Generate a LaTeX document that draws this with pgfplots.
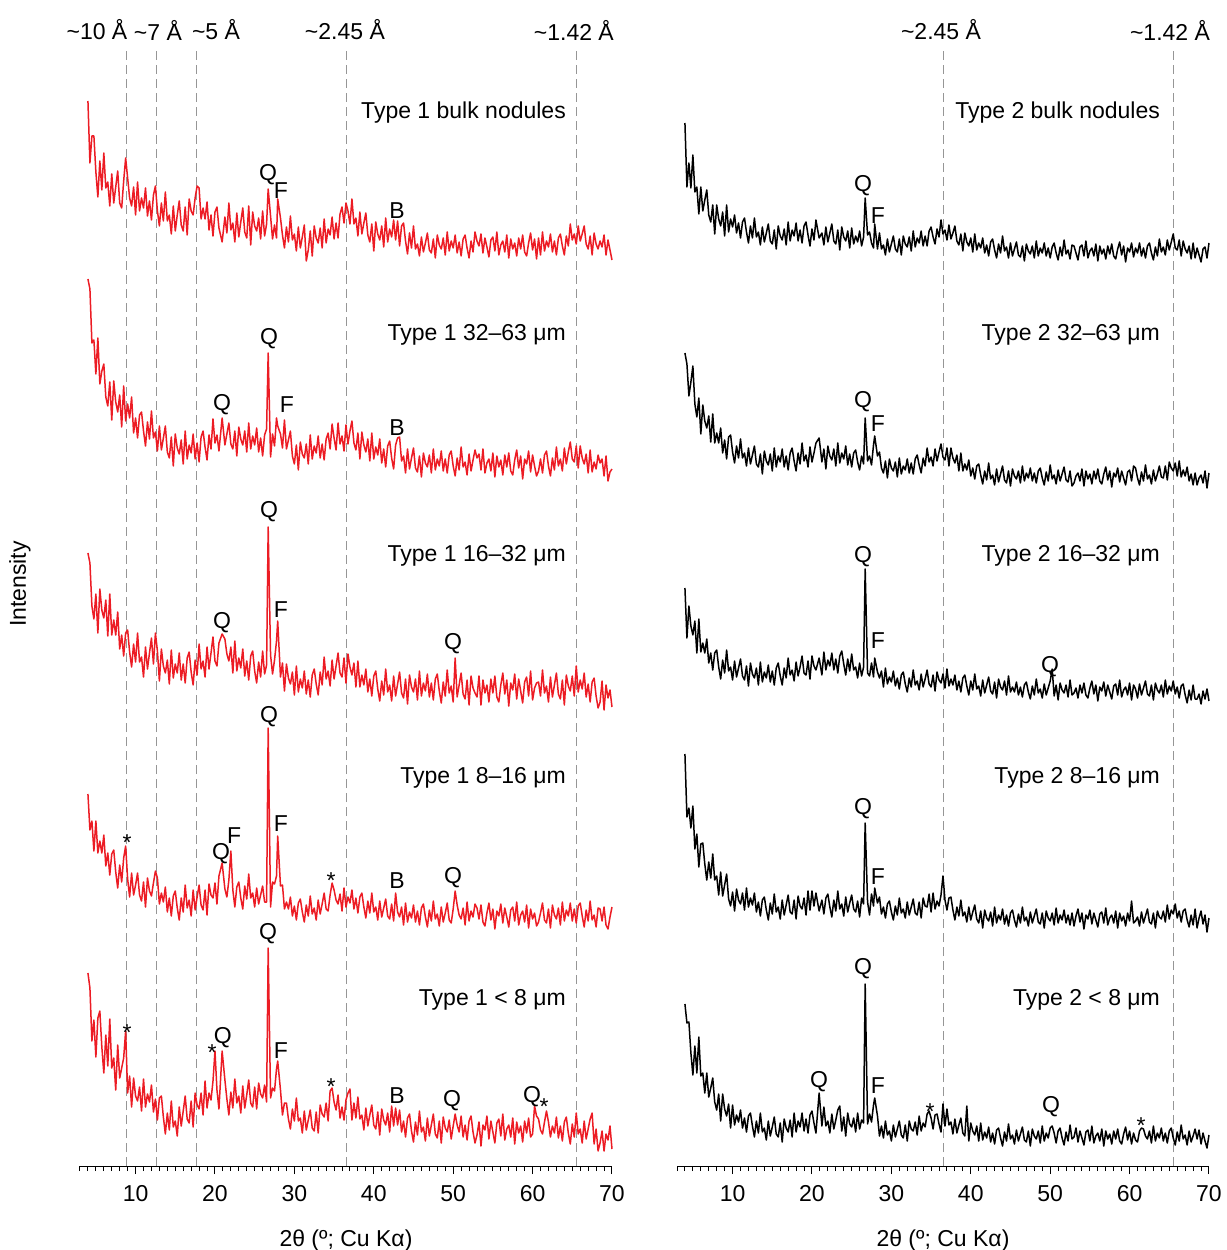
\documentclass[border=0pt]{standalone}
\usepackage{fontspec}
\setmainfont{Liberation Sans}
\usepackage{pgfplots}
\usepackage{pgfplotstable}
\pgfplotsset{compat=1.18}

\definecolor{xrdred}{RGB}{236,28,36}
\definecolor{guidegray}{RGB}{150,150,150}

% intensities in plot units (stacking offsets included)
% l1..l5 = Type 1 (bulk, 32-63, 16-32, 8-16, <8), r1..r5 = Type 2
\pgfplotstableread{
x l1 l2 l3 l4 l5 r1 r2 r3 r4 r5
4.00 1065 887 613 372 193 1043 813 578 412 162
4.25 1003 877 603 336 178 979 802 528 349 143
4.50 1030 823 560 345 125 1003 770 560 358 144
4.75 1030 826 547 315 146 978 784 540 338 113
5.00 994 792 572 345 109 1011 800 531 360 91
5.25 969 828 533 313 148 974 762 545 317 120
5.50 1005 782 577 325 155 979 749 513 332 93
5.75 976 795 556 313 119 952 768 547 299 129
6.00 1013 802 548 331 93 979 732 514 322 90
6.25 978 769 566 300 131 955 761 523 323 93
6.50 984 760 530 313 100 966 745 513 302 73
6.75 960 784 572 291 147 976 738 527 286 93
7.00 992 746 531 312 98 951 750 503 304 69
7.25 963 785 546 316 108 944 724 513 288 78
7.50 979 764 531 294 76 961 752 496 312 88
7.75 995 754 554 278 121 932 723 513 286 64
8.00 963 771 517 301 88 961 733 516 290 56
8.25 958 739 531 284 98 947 723 499 271 72
8.50 985 780 510 308 108 940 738 487 294 45
8.75 1008 745 533 320 135 954 713 506 270 72
9.00 988 762 536 287 73 930 726 493 281 57
9.25 968 748 514 269 90 961 707 516 292 50
9.50 960 769 499 293 59 934 729 495 267 62
9.75 979 733 522 271 88 947 731 499 260 38
10.00 951 748 504 281 70 939 714 486 274 61
10.25 984 728 533 293 65 951 703 505 255 41
10.50 955 751 504 271 79 933 720 489 277 51
10.75 968 754 509 265 55 943 708 498 266 44
11.00 958 735 489 284 87 928 727 507 262 56
11.25 978 720 519 259 59 944 708 490 273 38
11.50 950 744 497 288 72 948 713 486 256 48
11.75 965 727 513 275 64 934 700 500 278 34
12.00 946 755 528 270 81 923 718 480 259 50
12.25 971 728 502 283 54 940 702 503 268 53
12.50 980 734 533 295 67 928 711 492 261 40
12.75 955 715 515 288 46 948 720 488 273 29
13.00 940 740 485 262 68 929 702 498 254 45
13.25 963 716 517 273 70 934 699 481 264 33
13.50 945 728 500 264 49 921 712 504 250 53
13.75 974 740 493 279 32 939 692 484 266 34
14.00 945 714 506 254 53 924 715 494 269 38
14.25 951 708 482 268 36 933 705 488 256 26
14.50 932 729 516 250 65 942 701 501 246 45
14.75 960 700 488 270 39 925 712 484 263 30
15.00 935 732 502 275 45 922 695 495 252 39
15.25 951 718 493 258 30 936 718 481 272 49
15.50 965 712 513 246 59 917 699 498 254 32
15.75 941 726 486 268 40 940 710 503 259 29
16.00 935 702 502 254 55 930 704 490 247 43
16.25 959 735 483 281 70 926 717 481 266 24
16.50 931 707 508 258 47 937 699 498 251 47
16.75 967 721 514 266 43 921 710 488 261 38
17.00 955 713 494 250 65 944 696 508 271 34
17.25 951 732 481 276 39 925 713 491 254 46
17.50 968 707 506 256 73 936 718 496 252 29
17.75 980 723 491 269 61 930 705 485 266 53
18.00 978 704 522 281 57 943 695 504 247 34
18.25 947 729 497 261 73 925 713 490 270 45
18.50 958 735 505 256 51 936 702 499 260 39
18.75 947 719 489 276 85 923 723 510 257 53
19.00 964 706 519 251 58 940 705 493 268 35
19.25 936 731 497 282 73 944 711 491 251 47
19.50 951 717 513 271 66 931 699 505 275 33
19.75 930 747 529 268 85 920 719 487 256 51
20.00 954 723 505 283 115 937 704 510 275 55
20.25 959 731 500 262 76 926 713 500 260 43
20.50 938 715 523 290 57 946 723 496 273 33
20.90 924 748 532 303 115 928 728 508 255 73
21.25 949 721 527 277 86 933 704 491 266 40
21.50 933 732 512 269 67 921 717 514 252 59
21.75 963 743 505 286 51 939 697 496 268 40
22.00 936 722 519 315 74 924 720 506 272 45
22.25 943 717 493 276 58 933 710 500 259 33
22.50 924 735 525 259 87 942 706 513 249 52
22.75 953 710 495 279 63 925 717 496 266 37
23.00 929 739 508 284 70 922 700 507 255 46
23.25 944 727 498 268 53 936 723 493 275 56
23.50 958 721 517 257 80 916 703 510 257 60
23.75 934 735 490 280 58 939 713 515 262 35
24.00 928 714 505 267 71 929 707 502 250 49
24.25 960 743 486 292 86 925 720 491 269 30
24.50 921 717 510 268 63 935 701 507 254 53
24.75 954 730 515 273 59 918 712 495 263 42
25.00 940 721 495 259 79 938 699 512 271 39
25.25 935 738 483 278 57 922 713 496 257 48
25.50 948 714 504 262 83 930 716 499 254 34
25.75 927 728 489 271 72 924 704 488 265 53
26.00 955 710 515 280 68 935 696 503 249 37
26.25 930 731 492 264 81 920 710 490 268 46
26.50 942 737 501 264 64 929 702 499 262 43
26.70 977 813 639 438 218 968 748 597 343 182
27.00 950 709 511 259 68 931 705 493 264 42
27.25 927 732 492 284 78 934 710 490 251 52
27.50 941 720 506 282 75 923 701 503 272 44
27.75 928 748 525 290 97 918 721 489 260 61
27.90 967 740 545 330 105 942 730 508 278 68
28.25 948 732 489 280 76 917 710 494 263 50
28.50 931 718 503 281 51 933 714 488 269 30
28.75 918 746 475 257 63 917 698 495 252 40
29.00 939 717 502 264 63 921 693 479 259 28
29.25 924 726 488 257 47 911 705 498 248 45
29.50 950 735 482 269 37 927 688 482 262 31
29.75 926 710 494 250 57 914 707 489 265 35
30.00 932 702 471 260 45 922 698 484 254 25
30.25 915 721 500 246 68 930 695 495 246 41
30.50 939 696 474 263 45 917 704 480 260 29
30.75 918 724 487 267 48 914 689 488 251 37
31.00 929 712 478 254 33 927 708 477 268 45
31.25 941 708 495 244 55 911 692 491 253 31
31.50 905 722 472 261 36 930 700 494 257 28
31.75 916 702 486 250 46 922 696 482 248 41
32.00 935 731 469 270 56 919 707 474 264 25
32.25 910 707 491 252 38 929 693 488 251 45
32.50 940 720 497 258 35 915 703 479 259 37
32.75 928 713 482 246 54 935 692 496 267 35
33.00 923 730 471 266 33 919 707 481 253 44
33.25 938 708 494 252 61 928 711 485 251 31
33.50 918 722 481 262 52 923 701 476 264 50
33.75 947 706 509 273 49 935 693 492 248 35
34.00 923 727 487 257 63 920 708 479 268 43
34.25 937 733 495 255 45 930 700 487 260 39
34.50 931 717 480 271 75 920 718 496 259 52
34.75 949 742 506 283 78 935 704 482 272 55
35.00 927 728 487 276 64 939 709 479 254 48
35.25 943 716 500 266 56 929 700 491 273 37
35.50 928 743 513 262 71 922 717 475 257 51
35.75 952 722 493 272 48 937 705 494 265 52
36.00 959 730 489 255 59 929 714 486 260 42
36.25 943 715 508 278 46 946 722 483 271 34
36.50 963 741 483 259 66 932 709 492 290 62
36.75 955 722 512 269 73 936 706 478 266 40
37.00 942 735 499 263 77 926 718 497 256 57
37.25 967 745 491 276 46 941 700 480 268 41
37.50 942 723 503 257 63 927 718 487 269 44
37.75 948 716 479 268 48 933 708 481 256 32
38.00 930 733 505 253 69 940 703 491 246 47
38.25 954 707 479 269 47 925 711 476 259 33
38.50 932 734 491 273 51 921 695 485 250 41
38.75 943 721 481 259 36 932 713 474 266 48
39.00 953 714 497 248 58 915 695 488 250 33
39.25 931 727 474 265 40 933 702 491 254 30
39.50 924 705 487 253 51 924 696 480 244 60
39.75 942 733 470 273 61 920 706 471 259 25
40.00 915 707 490 254 41 928 690 485 246 43
40.25 944 719 495 259 37 914 698 476 254 35
40.50 932 711 477 246 54 932 687 492 261 31
40.75 926 727 465 265 31 916 700 477 247 40
41.00 940 703 485 249 57 923 702 480 243 25
41.25 919 717 471 258 46 918 691 470 255 43
41.50 948 699 497 267 41 928 682 486 238 26
41.75 924 720 474 250 53 913 695 473 256 34
42.00 937 725 481 247 34 921 686 481 248 28
42.25 929 708 465 262 60 910 703 489 245 39
42.50 946 697 490 245 40 924 687 475 254 24
42.75 926 721 470 273 58 927 691 472 240 33
43.00 945 728 482 254 41 916 681 484 259 22
43.25 920 729 494 249 56 908 697 468 243 36
43.50 940 705 473 259 34 922 684 487 251 38
43.75 943 710 468 241 45 913 692 479 246 28
44.00 925 693 487 263 29 930 700 476 257 20
44.25 912 717 462 244 48 915 686 485 242 34
44.50 933 697 491 254 52 919 683 471 251 25
44.75 918 708 479 248 35 908 695 490 240 42
45.00 940 718 474 261 24 923 680 474 253 27
45.25 917 698 487 244 44 910 697 479 256 31
45.50 922 694 466 255 31 917 690 474 246 22
45.75 910 710 495 241 55 924 687 484 239 36
46.00 929 689 470 258 34 911 695 471 252 25
46.25 914 713 483 262 39 909 683 479 243 32
46.50 923 703 475 249 25 920 700 469 259 39
46.75 933 699 492 239 48 905 685 481 245 26
47.00 916 711 469 256 30 922 693 484 249 24
47.25 913 693 483 245 41 915 688 474 240 35
47.50 927 717 466 265 52 912 698 467 254 20
47.75 908 696 487 247 32 920 685 480 243 37
48.00 931 707 492 252 28 908 693 471 250 30
48.25 921 700 475 240 45 925 683 487 257 27
48.50 917 715 463 259 23 910 695 473 244 35
48.75 928 695 484 244 49 918 698 477 242 23
49.00 911 707 470 253 38 913 688 468 253 40
49.25 934 693 496 263 34 923 681 482 238 25
49.50 915 711 473 246 46 910 694 471 255 33
49.75 925 715 480 243 27 918 685 478 248 28
50.00 918 700 464 257 40 908 701 485 245 38
50.25 931 690 508 275 52 919 687 497 253 40
50.50 913 708 469 261 41 923 691 470 241 33
50.75 924 696 481 251 34 913 682 481 258 23
51.00 910 719 493 247 50 906 696 466 243 35
51.25 927 699 472 258 29 919 685 483 251 38
51.50 931 704 467 241 41 910 692 476 246 28
51.75 918 691 486 264 26 926 699 473 256 21
52.00 908 712 461 245 45 912 686 481 243 34
52.25 925 695 490 255 50 916 684 469 251 25
52.50 914 706 478 249 34 907 695 486 241 41
52.75 934 716 473 262 23 921 680 471 253 27
53.00 925 708 469 258 31 920 683 473 240 29
53.25 920 712 490 247 44 913 690 478 250 38
53.50 932 696 461 261 20 906 693 468 257 24
53.75 913 717 486 244 41 919 685 481 244 35
54.00 928 693 473 240 36 921 697 473 253 28
54.25 919 703 481 253 50 910 680 483 237 21
54.50 909 707 464 263 27 925 695 471 251 34
54.75 926 695 487 246 45 908 687 468 247 36
55.00 929 713 473 257 34 915 692 478 256 25
55.25 915 689 490 237 23 918 682 485 242 40
55.50 934 710 469 255 43 910 695 472 253 23
55.75 911 699 464 250 47 922 687 481 246 30
56.00 921 706 481 262 30 905 697 465 239 33
56.25 925 691 493 243 52 920 685 479 252 25
56.50 914 711 472 258 26 912 682 475 254 37
56.75 931 699 486 249 37 917 692 484 243 20
57.00 908 713 460 239 41 907 699 470 258 35
57.25 927 695 483 256 29 920 686 481 241 27
57.50 917 691 476 259 48 912 695 474 248 32
57.75 923 706 492 245 22 922 679 467 251 22
58.00 910 716 467 264 44 910 693 480 243 35
58.25 928 698 487 241 33 907 689 482 255 27
58.50 917 710 475 251 40 917 698 471 238 37
58.75 931 687 463 255 24 924 684 486 253 25
59.00 914 707 484 244 45 911 695 469 245 22
59.25 910 702 489 261 33 920 688 476 250 32
59.50 923 715 470 238 48 904 681 479 240 39
59.75 933 694 495 257 29 918 694 471 253 26
60.00 916 711 466 247 32 914 696 483 245 35
60.25 927 700 478 253 60 923 685 466 265 22
60.50 907 690 483 240 50 909 700 481 243 33
60.75 928 695 484 244 47 918 698 477 245 26
61.00 911 707 470 253 36 913 688 468 249 24
61.25 934 693 496 263 32 923 681 482 240 35
61.50 915 711 473 246 44 910 694 471 254 38
61.75 925 715 480 243 55 918 685 478 243 37
62.00 919 700 464 257 44 908 701 485 250 30
62.25 932 690 489 238 29 920 687 472 257 27
62.50 914 708 469 261 40 923 691 470 244 35
62.75 925 696 481 251 33 913 682 481 242 23
63.00 911 719 493 247 49 906 696 466 253 40
63.25 928 700 472 258 28 919 685 483 238 25
63.50 932 707 467 241 40 910 692 476 255 33
63.75 920 695 486 264 25 927 700 473 249 28
64.00 911 718 461 245 44 914 689 481 247 38
64.25 930 702 491 256 49 919 688 469 255 25
64.50 920 714 480 250 33 911 700 486 244 33
64.75 942 724 475 263 22 926 686 472 261 23
65.00 926 707 490 245 42 916 704 480 247 35
65.25 932 704 470 257 29 924 698 475 256 38
65.50 922 720 500 243 53 932 695 485 252 28
65.75 940 698 474 260 32 918 703 472 262 21
66.00 925 720 486 263 37 916 690 479 248 34
66.25 932 708 477 250 23 926 705 468 255 25
66.50 940 702 493 239 45 910 689 480 244 41
66.75 922 712 469 256 27 925 696 482 255 27
67.00 917 693 482 245 37 917 690 471 257 31
67.25 930 716 464 265 47 913 699 463 246 21
67.50 911 694 484 246 53 920 685 476 239 35
67.75 933 704 488 251 22 907 692 466 251 24
68.00 922 697 470 239 37 923 681 481 241 30
68.25 917 711 458 258 15 908 693 467 257 37
68.50 925 703 464 257 23 918 681 467 238 27
68.75 919 707 485 245 35 911 688 472 248 36
69.00 931 690 456 259 15 904 691 462 255 22
69.25 911 710 481 241 32 917 683 475 242 33
69.50 926 685 468 237 26 919 695 467 251 25
69.75 916 694 476 249 40 908 678 477 234 18
70.00 906 697 459 259 17 923 693 465 248 31
}\xrd

\pgfplotsset{
  xrdpanel/.style={
    scale only axis, width=266pt, height=557.5pt,
    xmin=3, xmax=70, ymin=0, ymax=1115,
    axis x line*=bottom, axis y line=none, ytick=\empty,
    x axis line style={-, line width=0.5pt},
    xtick={10,20,...,70}, minor xtick={3,...,70},
    tick align=outside,
    major tick length=4pt, minor tick length=2.6pt,
    every tick/.style={black, line width=0.5pt},
    xticklabel style={anchor=base, yshift=-13.5pt},
    /pgf/number format/assume math mode=true,
    xlabel={2θ (º; Cu Kα)},
    every axis x label/.style={at={(axis description cs:0.5,0)}, anchor=center, yshift=-37.5pt},
    clip=false,
  },
  guideline/.style={guidegray, line width=0.5pt, dash pattern=on 4.5pt off 2.5pt, forget plot},
  redline/.style={xrdred, line width=0.75pt, line join=round},
  blackline/.style={black, line width=0.75pt, line join=round},
}

\begin{document}
\fontsize{11.5}{13.5}\selectfont
\begin{tikzpicture}
% ---------------- Type 1 ----------------
\begin{axis}[xrdpanel, at={(0pt,0pt)}, anchor=south west]
\addplot[guideline] coordinates {(8.8,0) (8.8,1115)};
\addplot[guideline] coordinates {(12.6,0) (12.6,1115)};
\addplot[guideline] coordinates {(17.7,0) (17.7,1115)};
\addplot[guideline] coordinates {(36.6,0) (36.6,1115)};
\addplot[guideline] coordinates {(65.5,0) (65.5,1115)};
\addplot[redline] table[x=x, y=l1] {\xrd};
\addplot[redline] table[x=x, y=l2] {\xrd};
\addplot[redline] table[x=x, y=l3] {\xrd};
\addplot[redline] table[x=x, y=l4] {\xrd};
\addplot[redline] table[x=x, y=l5] {\xrd};
% d-spacing labels
\node at (axis cs:5.14,1136) {\textasciitilde10 Å};
\node at (axis cs:12.82,1136) {\textasciitilde7 Å};
\node at (axis cs:20.13,1136) {\textasciitilde5 Å};
\node at (axis cs:36.37,1136) {\textasciitilde2.45 Å};
\node at (axis cs:65.2,1136) {\textasciitilde1.42 Å};
\node[rotate=90] at (axis cs:-4.56,582) {Intensity};
% sample names
\node[anchor=east] at (axis cs:65.2,1053) {Type 1 bulk nodules};
\node[anchor=east] at (axis cs:65.2,831) {Type 1 32–63 μm};
\node[anchor=east] at (axis cs:65.2,610) {Type 1 16–32 μm};
\node[anchor=east] at (axis cs:65.2,388) {Type 1 8–16 μm};
\node[anchor=east] at (axis cs:65.2,166) {Type 1 < 8 μm};
% phase labels
\node at (axis cs:26.68,991) {Q};
\node at (axis cs:28.31,975) {F};
\node at (axis cs:42.92,955) {B};
\node at (axis cs:26.80,827) {Q};
\node at (axis cs:20.88,761) {Q};
\node at (axis cs:29.07,761) {F};
\node at (axis cs:42.92,738) {B};
\node at (axis cs:26.80,654) {Q};
\node at (axis cs:20.88,543) {Q};
\node at (axis cs:28.31,556) {F};
\node at (axis cs:49.98,522) {Q};
\node at (axis cs:26.80,449) {Q};
\node at (axis cs:8.92,323) {*};
\node at (axis cs:20.76,312) {Q};
\node at (axis cs:22.40,330) {F};
\node at (axis cs:28.31,342) {F};
\node at (axis cs:34.61,285) {*};
\node at (axis cs:42.92,285) {B};
\node at (axis cs:49.98,288) {Q};
\node at (axis cs:26.68,232) {Q};
\node at (axis cs:8.92,133) {*};
\node at (axis cs:19.65,113) {*};
\node at (axis cs:20.98,128) {Q};
\node at (axis cs:28.31,115) {F};
\node at (axis cs:34.61,79) {*};
\node at (axis cs:42.92,70) {B};
\node at (axis cs:49.85,65) {Q};
\node at (axis cs:59.93,69) {Q};
\node at (axis cs:61.44,59) {*};
\end{axis}
% ---------------- Type 2 ----------------
\begin{axis}[xrdpanel, at={(298.5pt,0pt)}, anchor=south west]
\addplot[guideline] coordinates {(36.6,0) (36.6,1115)};
\addplot[guideline] coordinates {(65.5,0) (65.5,1115)};
\addplot[blackline] table[x=x, y=r1] {\xrd};
\addplot[blackline] table[x=x, y=r2] {\xrd};
\addplot[blackline] table[x=x, y=r3] {\xrd};
\addplot[blackline] table[x=x, y=r4] {\xrd};
\addplot[blackline] table[x=x, y=r5] {\xrd};
\node at (axis cs:36.25,1136) {\textasciitilde2.45 Å};
\node at (axis cs:65.09,1136) {\textasciitilde1.42 Å};
\node[anchor=east] at (axis cs:64.83,1053) {Type 2 bulk nodules};
\node[anchor=east] at (axis cs:64.83,831) {Type 2 32–63 μm};
\node[anchor=east] at (axis cs:64.83,610) {Type 2 16–32 μm};
\node[anchor=east] at (axis cs:64.83,388) {Type 2 8–16 μm};
\node[anchor=east] at (axis cs:64.83,166) {Type 2 < 8 μm};
\node at (axis cs:26.43,980) {Q};
\node at (axis cs:28.31,950) {F};
\node at (axis cs:26.43,764) {Q};
\node at (axis cs:28.31,742) {F};
\node at (axis cs:26.43,609) {Q};
\node at (axis cs:28.31,525) {F};
\node at (axis cs:49.98,499) {Q};
\node at (axis cs:26.43,357) {Q};
\node at (axis cs:28.31,289) {F};
\node at (axis cs:26.43,197) {Q};
\node at (axis cs:20.88,84) {Q};
\node at (axis cs:28.31,80) {F};
\node at (axis cs:34.86,54) {*};
\node at (axis cs:50.1,59) {Q};
\node at (axis cs:61.44,40) {*};
\end{axis}
\pgfresetboundingbox
\path[use as bounding box] (-40pt,-42pt) rectangle (573.5pt,583pt);
\end{tikzpicture}
\end{document}
